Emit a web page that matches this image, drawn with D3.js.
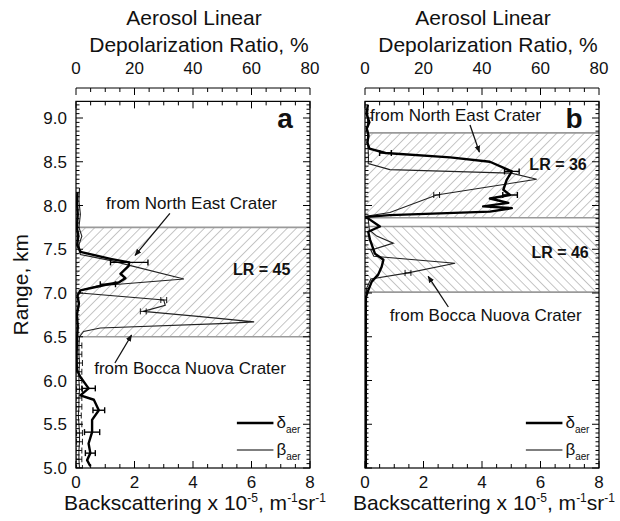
<!DOCTYPE html>
<html>
<head>
<meta charset="utf-8">
<script src="https://cdn.jsdelivr.net/npm/d3@7"></script>
<style>
body { margin: 0; background: #fff; }
text { font-family: "Liberation Sans", Arial, sans-serif; fill: #111; }
</style>
</head>
<body>
<svg id="chart" width="620" height="521"></svg>
<script>
// axis ticks
const rangeTicks = [5.0, 5.5, 6.0, 6.5, 7.0, 7.5, 8.0, 8.5, 9.0];
const backTicks = [0, 2, 4, 6, 8];
const depolTicks = [0, 20, 40, 60, 80];

// panel a: depolarization ratio [%, km, error %]
const aDepol = [
  [4.9, 5.02, 0], [3.8, 5.09, 0], [4.9, 5.17, 1.7], [4.3, 5.28, 0], [5.5, 5.41, 2.6],
  [5.5, 5.55, 0], [7.8, 5.66, 2.0], [6.1, 5.78, 0], [1.5, 5.83, 0], [4.3, 5.91, 2.3],
  [1.5, 6.04, 0], [0.3, 6.12, 0], [0.2, 6.3, 0], [0.4, 6.5, 0], [0.6, 6.62, 0],
  [0.3, 6.75, 0], [1.0, 6.88, 0], [0.5, 6.97, 0], [1.5, 7.03, 0], [8.3, 7.08, 0],
  [10.9, 7.10, 2.6], [14.6, 7.12, 0], [16.9, 7.17, 0], [15.2, 7.22, 0], [18.0, 7.31, 0],
  [18.2, 7.35, 6.4], [11.8, 7.39, 0], [1.5, 7.47, 0], [0.4, 7.55, 0], [0.8, 7.65, 0],
  [0.3, 7.75, 0], [0.6, 7.9, 0], [0.3, 8.05, 0], [0.5, 8.15, 0]
];
// panel a: backscattering [x1e-5 m-1 sr-1, km, error]
const aBack = [
  [0.12, 5.0, 0.1], [0.1, 5.1, 0.1], [0.1, 5.2, 0.1], [0.12, 5.3, 0.1], [0.12, 5.4, 0.1],
  [0.1, 5.5, 0.1], [0.08, 5.6, 0.1], [0.1, 5.7, 0.1], [0.1, 5.8, 0.1], [0.12, 5.9, 0.1],
  [0.1, 6.0, 0.1], [0.1, 6.1, 0.1], [0.12, 6.2, 0.1], [0.1, 6.3, 0.1], [0.1, 6.4, 0.1],
  [0.12, 6.5, 0], [0.26, 6.56, 0], [0.83, 6.60, 0], [4.95, 6.65, 0], [6.09, 6.67, 0],
  [4.26, 6.73, 0], [2.3, 6.79, 0.1], [3.05, 6.86, 0], [3.0, 6.92, 0.1], [0.15, 7.0, 0],
  [0.15, 7.03, 0], [0.72, 7.08, 0], [3.69, 7.16, 0], [1.9, 7.31, 0], [1.2, 7.37, 0],
  [0.15, 7.44, 0], [0.1, 7.55, 0], [0.2, 7.65, 0], [0.1, 7.75, 0], [0.15, 7.9, 0],
  [0.1, 8.05, 0], [0.12, 8.2, 0]
];
const aZones = [[6.5, 7.75, 45]];

// panel b
const bDepol = [
  [0.3, 5.0, 0], [0.2, 5.5, 0], [0.3, 6.0, 0], [0.2, 6.5, 0], [0.3, 6.95, 0],
  [1.1, 7.03, 0], [2.3, 7.13, 0], [4.5, 7.21, 0], [5.7, 7.30, 0], [6.3, 7.38, 0],
  [3.4, 7.45, 0], [1.7, 7.61, 0], [1.1, 7.70, 0], [5.1, 7.76, 0], [0.3, 7.87, 0],
  [8.5, 7.89, 0], [42.7, 7.93, 0], [50.2, 7.97, 0], [40.4, 7.99, 0], [49.0, 8.03, 0],
  [42.7, 8.08, 0], [49.6, 8.12, 2.5], [47.3, 8.18, 0], [48.4, 8.29, 0], [50.2, 8.39, 2.5],
  [42.7, 8.50, 0], [29.1, 8.55, 0], [7.0, 8.60, 2.0], [1.5, 8.65, 0], [0.8, 8.72, 0],
  [1.2, 8.80, 0], [0.6, 8.88, 0], [1.5, 8.95, 0], [0.5, 9.05, 0], [1.0, 9.15, 0]
];
const bBack = [
  [0.05, 5.0, 0], [0.05, 6.0, 0], [0.05, 6.5, 0], [0.05, 7.05, 0], [0.2, 7.16, 0],
  [1.47, 7.23, 0.1], [3.08, 7.34, 0], [0.3, 7.42, 0], [0.2, 7.49, 0], [0.97, 7.57, 0],
  [0.4, 7.65, 0], [0.15, 7.72, 0], [0.1, 7.88, 0], [0.85, 7.92, 0], [2.45, 8.12, 0.1],
  [5.87, 8.30, 0], [5.0, 8.37, 0], [0.85, 8.41, 0], [0.11, 8.48, 0], [0.12, 8.55, 0],
  [0.1, 8.7, 0], [0.08, 8.9, 0], [0.1, 9.1, 0]
];
const bZones = [[7.86, 8.83, 45], [7.01, 7.76, -45]];

// annotations [text, x (backscatter units), km]
const aNotes = [
  { text: "from North East Crater", x: 3.95, y: 8.03, anchor: "middle" },
  { text: "from Bocca Nuova Crater", x: 3.9, y: 6.14, anchor: "middle" }
];
const aArrows = [[3.21, 7.91, 2.02, 7.43], [1.33, 6.20, 1.9, 6.52]];
const aLR = [["LR = 45", 6.35, 7.28]];
const bNotes = [
  { text: "from North East Crater", x: 0.17, y: 9.03, anchor: "start" },
  { text: "from Bocca Nuova Crater", x: 0.85, y: 6.75, anchor: "start" }
];
const bArrows = [[3.59, 8.92, 3.91, 8.61], [2.85, 6.84, 2.16, 7.19]];
const bLR = [["LR = 36", 6.6, 8.48], ["LR = 46", 6.67, 7.47]];

const svg = d3.select("#chart");
const defs = svg.append("defs");

defs.append("marker")
    .attr("id", "arrowhead")
    .attr("viewBox", "0 -5 10 10")
    .attr("refX", 9)
    .attr("refY", 0)
    .attr("markerWidth", 7)
    .attr("markerHeight", 7)
    .attr("markerUnits", "userSpaceOnUse")
    .attr("orient", "auto")
    .append("path")
    .attr("d", "M0,-4L10,0L0,4Z")
    .attr("fill", "#111");

[45, -45].forEach(a => {
    const p = defs.append("pattern")
        .attr("id", "hatch" + (a > 0 ? "R" : "L"))
        .attr("patternUnits", "userSpaceOnUse")
        .attr("width", 6.5)
        .attr("height", 6.5)
        .attr("patternTransform", `rotate(${a})`);
    p.append("line")
        .attr("x1", 0).attr("y1", 0).attr("x2", 0).attr("y2", 6.5)
        .attr("stroke", "#8c8c8c")
        .attr("stroke-width", 1);
});

const y = d3.scaleLinear().domain([5, 9]).range([468, 118]);
const yTop = 9.19;

function drawPanel(x0, x1, depol, back, zones, notes, arrows, lrs, letter, showY) {
    const x = d3.scaleLinear().domain([0, 8]).range([x0, x1]);
    const xd = d3.scaleLinear().domain([0, 80]).range([x0, x1]);
    const g = svg.append("g");
    const top = y(yTop), bottom = y(5);

    // clip for the profiles
    const cid = "clip" + letter;
    defs.append("clipPath").attr("id", cid)
        .append("rect").attr("x", x0).attr("y", top).attr("width", x1 - x0).attr("height", bottom - top);

    // hatched layers
    zones.forEach(z => {
        g.append("rect")
            .attr("x", x0).attr("width", x1 - x0)
            .attr("y", y(z[1])).attr("height", y(z[0]) - y(z[1]))
            .attr("fill", `url(#hatch${z[2] > 0 ? "R" : "L"})`);
        [z[0], z[1]].forEach(v => {
            g.append("line")
                .attr("x1", x0).attr("x2", x1)
                .attr("y1", y(v)).attr("y2", y(v))
                .attr("stroke", "#9a9a9a")
                .attr("stroke-width", 1.6);
        });
    });

    const prof = g.append("g").attr("clip-path", `url(#${cid})`);

    // backscattering (thin)
    prof.append("path")
        .datum(back)
        .attr("fill", "none")
        .attr("stroke", "#222")
        .attr("stroke-width", 1.1)
        .attr("d", d3.line().x(d => x(d[0])).y(d => y(d[1])));
    // depolarization (thick)
    prof.append("path")
        .datum(depol)
        .attr("fill", "none")
        .attr("stroke", "#000")
        .attr("stroke-width", 2.4)
        .attr("stroke-linejoin", "round")
        .attr("d", d3.line().x(d => xd(d[0])).y(d => y(d[1])));

    // error bars
    function errBars(data, sx, w) {
        data.filter(d => d[2] > 0).forEach(d => {
            const yy = y(d[1]), l = sx(d[0] - d[2]), r = sx(d[0] + d[2]);
            prof.append("line").attr("x1", l).attr("x2", r).attr("y1", yy).attr("y2", yy)
                .attr("stroke", "#000").attr("stroke-width", w);
            [l, r].forEach(px => prof.append("line")
                .attr("x1", px).attr("x2", px).attr("y1", yy - 3).attr("y2", yy + 3)
                .attr("stroke", "#000").attr("stroke-width", w));
        });
    }
    errBars(back, x, 0.9);
    errBars(depol, xd, 1.4);

    // frame
    g.append("rect")
        .attr("x", x0).attr("y", top)
        .attr("width", x1 - x0).attr("height", bottom - top)
        .attr("fill", "none").attr("stroke", "#000").attr("stroke-width", 1.2);

    const tickStroke = sel => sel.attr("stroke", "#000").attr("stroke-width", 1);

    // vertical ticks on both sides, pointing inward
    d3.range(5, yTop, 0.05).forEach(v => {
        const major = Math.abs(v * 2 - Math.round(v * 2)) < 1e-6;
        const len = major ? 7 : 3.5;
        g.append("line").attr("x1", x0).attr("x2", x0 + len).attr("y1", y(v)).attr("y2", y(v)).call(tickStroke);
        g.append("line").attr("x1", x1).attr("x2", x1 - len).attr("y1", y(v)).attr("y2", y(v)).call(tickStroke);
    });

    // bottom and top frame ticks (backscatter)
    d3.range(0, 8.01, 0.5).forEach(v => {
        const major = v % 2 === 0;
        const len = major ? 7 : 4;
        g.append("line").attr("x1", x(v)).attr("x2", x(v)).attr("y1", bottom).attr("y2", bottom - len).call(tickStroke);
        g.append("line").attr("x1", x(v)).attr("x2", x(v)).attr("y1", top).attr("y2", top + len).call(tickStroke);
    });

    // separate depolarization axis on top
    const topAxisY = 88;
    g.append("line").attr("x1", x0).attr("x2", x1).attr("y1", topAxisY).attr("y2", topAxisY).call(tickStroke);
    d3.range(0, 80.1, 5).forEach(v => {
        const len = v % 20 === 0 ? 7 : 4;
        g.append("line").attr("x1", xd(v)).attr("x2", xd(v)).attr("y1", topAxisY).attr("y2", topAxisY + len).call(tickStroke);
    });
    g.selectAll(".dtick").data(depolTicks).enter().append("text")
        .attr("x", d => xd(d)).attr("y", 74)
        .attr("text-anchor", "middle")
        .attr("font-size", 17)
        .text(d => d);

    g.selectAll(".btick").data(backTicks).enter().append("text")
        .attr("x", d => x(d)).attr("y", bottom + 20)
        .attr("text-anchor", "middle")
        .attr("font-size", 17)
        .text(d => d);

    if (showY) {
        g.selectAll(".ytick").data(rangeTicks).enter().append("text")
            .attr("x", x0 - 9).attr("y", d => y(d) + 6)
            .attr("text-anchor", "end")
            .attr("font-size", 17)
            .text(d => d3.format(".1f")(d));
    }

    // titles
    const cx = (x0 + x1) / 2;
    g.append("text").attr("x", cx + 1).attr("y", 25)
        .attr("text-anchor", "middle").attr("font-size", 21).text("Aerosol Linear");
    g.append("text").attr("x", cx + 6).attr("y", 52)
        .attr("text-anchor", "middle").attr("font-size", 21).text("Depolarization Ratio, %");

    const bt = g.append("text").attr("x", cx + 2).attr("y", bottom + 42)
        .attr("text-anchor", "middle").attr("font-size", 21);
    bt.append("tspan").text("Backscattering x 10");
    bt.append("tspan").attr("dy", -8).attr("font-size", 12).text("-5");
    bt.append("tspan").attr("dy", 8).text(", m");
    bt.append("tspan").attr("dy", -8).attr("font-size", 12).text("-1");
    bt.append("tspan").attr("dy", 8).text("sr");
    bt.append("tspan").attr("dy", -8).attr("font-size", 12).text("-1");

    // panel letter
    g.append("text").attr("x", x(7.15)).attr("y", y(9.0) + 10)
        .attr("text-anchor", "middle").attr("font-size", 28).attr("font-weight", "bold")
        .text(letter);

    // annotations
    notes.forEach(n => {
        g.append("text").attr("x", x(n.x)).attr("y", y(n.y) + 6)
            .attr("text-anchor", n.anchor).attr("font-size", 17).text(n.text);
    });
    arrows.forEach(a => {
        g.append("line")
            .attr("x1", x(a[0])).attr("y1", y(a[1]))
            .attr("x2", x(a[2])).attr("y2", y(a[3]))
            .attr("stroke", "#111").attr("stroke-width", 1.3)
            .attr("marker-end", "url(#arrowhead)");
    });
    lrs.forEach(l => {
        g.append("text").attr("x", x(l[1])).attr("y", y(l[2]) + 6)
            .attr("text-anchor", "middle").attr("font-size", 16).attr("font-weight", "bold")
            .text(l[0]);
    });

    // legend
    const lx0 = x(5.5), lx1 = x(6.75);
    [[423, 2.4, "\u03b4"], [450, 1.1, "\u03b2"]].forEach(e => {
        g.append("line").attr("x1", lx0).attr("x2", lx1).attr("y1", e[0]).attr("y2", e[0])
            .attr("stroke", "#000").attr("stroke-width", e[1]);
        const t = g.append("text").attr("x", lx1 + 3).attr("y", e[0] + 5).attr("font-size", 17);
        t.append("tspan").text(e[2]);
        t.append("tspan").attr("dy", 5).attr("font-size", 10).text("aer");
    });
}

drawPanel(76, 310, aDepol, aBack, aZones, aNotes, aArrows, aLR, "a", true);
drawPanel(365, 599, bDepol, bBack, bZones, bNotes, bArrows, bLR, "b", false);

// y axis title
svg.append("text")
    .attr("transform", `translate(28, ${(y(yTop) + y(5)) / 2}) rotate(-90)`)
    .attr("text-anchor", "middle")
    .attr("font-size", 21)
    .text("Range, km");
</script>
</body>
</html>
